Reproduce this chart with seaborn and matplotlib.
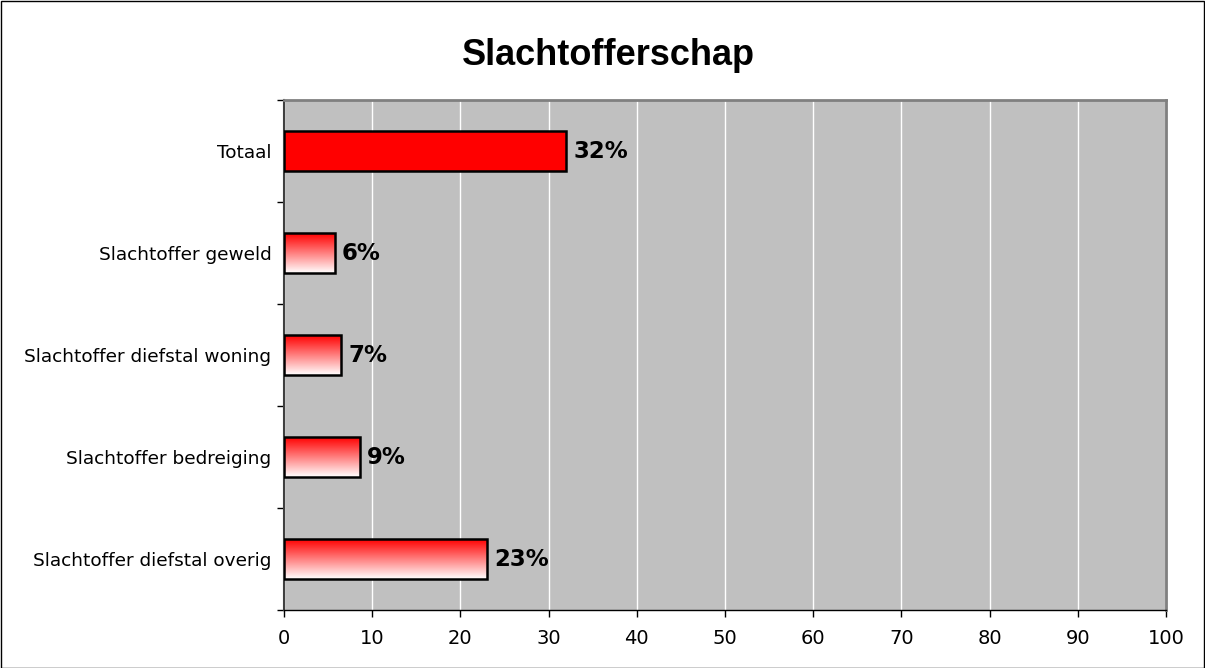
import numpy as np
import pandas as pd
import matplotlib
matplotlib.use("Agg")
import matplotlib.pyplot as plt
import seaborn as sns
from matplotlib.colors import LinearSegmentedColormap
from matplotlib.patches import Rectangle

# Data
categories = ['Totaal', 'Slachtoffer geweld', 'Slachtoffer diefstal woning',
              'Slachtoffer bedreiging', 'Slachtoffer diefstal overig']
values = [32.0, 5.8, 6.5, 8.6, 23.0]
labels = ['32%', '6%', '7%', '9%', '23%']
xticks = list(range(0, 101, 10))

df = pd.DataFrame({'Categorie': categories, 'Percentage': values})

sns.set_style("white")
plt.rcParams['font.family'] = ['DejaVu Sans']
plt.rcParams['text.color'] = 'black'
plt.rcParams['xtick.color'] = 'black'
plt.rcParams['ytick.color'] = 'black'

fig = plt.figure(figsize=(12.05, 6.68), dpi=100)
ax = fig.add_axes([284 / 1205, 1 - 610 / 668, 882 / 1205, 510 / 668])
ax.set_facecolor('#C0C0C0')

sns.barplot(data=df, x='Percentage', y='Categorie', orient='h', color='#FF0000',
            saturation=1, width=0.39, edgecolor='black', linewidth=1.8, ax=ax, zorder=3)

# red-to-white gradient on all bars except the total
grad = LinearSegmentedColormap.from_list('rw', ['#FF0000', '#FFFFFF'])
gimg = np.linspace(0, 1, 256).reshape(-1, 1)
for i, p in enumerate(ax.patches):
    if i == 0:
        continue
    x0, y0 = p.get_x(), p.get_y()
    w, h = p.get_width(), p.get_height()
    p.set_facecolor('none')
    ax.imshow(gimg, cmap=grad, aspect='auto', zorder=2.5,
              extent=(x0, x0 + w, y0 + h, y0), interpolation='bicubic')

for p, lab in zip(ax.patches, labels):
    ax.annotate(lab, (p.get_x() + p.get_width(), p.get_y() + p.get_height() / 2),
                xytext=(5, 0), textcoords='offset points', va='center', ha='left',
                fontsize=16.5, fontweight='bold', color='black', zorder=5)

ax.set_xlim(0, 100)
ax.set_ylim(4.5, -0.5)
ax.set_xticks(xticks)
ax.xaxis.grid(True, color='white', linewidth=1, zorder=1)
ax.set_axisbelow(True)
ax.set_xlabel('')
ax.set_ylabel('')

ax.tick_params(axis='x', which='major', direction='out', length=5, width=1,
               color='black', labelsize=14, pad=9, bottom=True)
ax.set_yticks(range(len(categories)))
ax.set_yticklabels(categories)
ax.tick_params(axis='y', which='major', length=0, labelsize=13.3, pad=9)
ax.set_yticks(np.arange(-0.5, 5, 1), minor=True)
ax.tick_params(axis='y', which='minor', direction='out', length=5, width=1,
               color='black', left=True)

for side in ['top', 'right']:
    ax.spines[side].set_color('#808080')
    ax.spines[side].set_linewidth(2)
ax.spines['left'].set_color('#404040')
ax.spines['left'].set_linewidth(1.5)
ax.spines['bottom'].set_color('black')
ax.spines['bottom'].set_linewidth(1)

fig.text(608 / 1205, 1 - 65 / 668, 'Slachtofferschap', ha='center', va='baseline',
         fontsize=26, fontweight='bold', family='Liberation Sans', color='black')

fig.patches.append(Rectangle((0.5 / 1205, 0.5 / 668), 1 - 1.5 / 1205, 1 - 1.5 / 668,
                             transform=fig.transFigure, fill=False,
                             edgecolor='black', linewidth=1))

fig.savefig('out.png', dpi=100)
